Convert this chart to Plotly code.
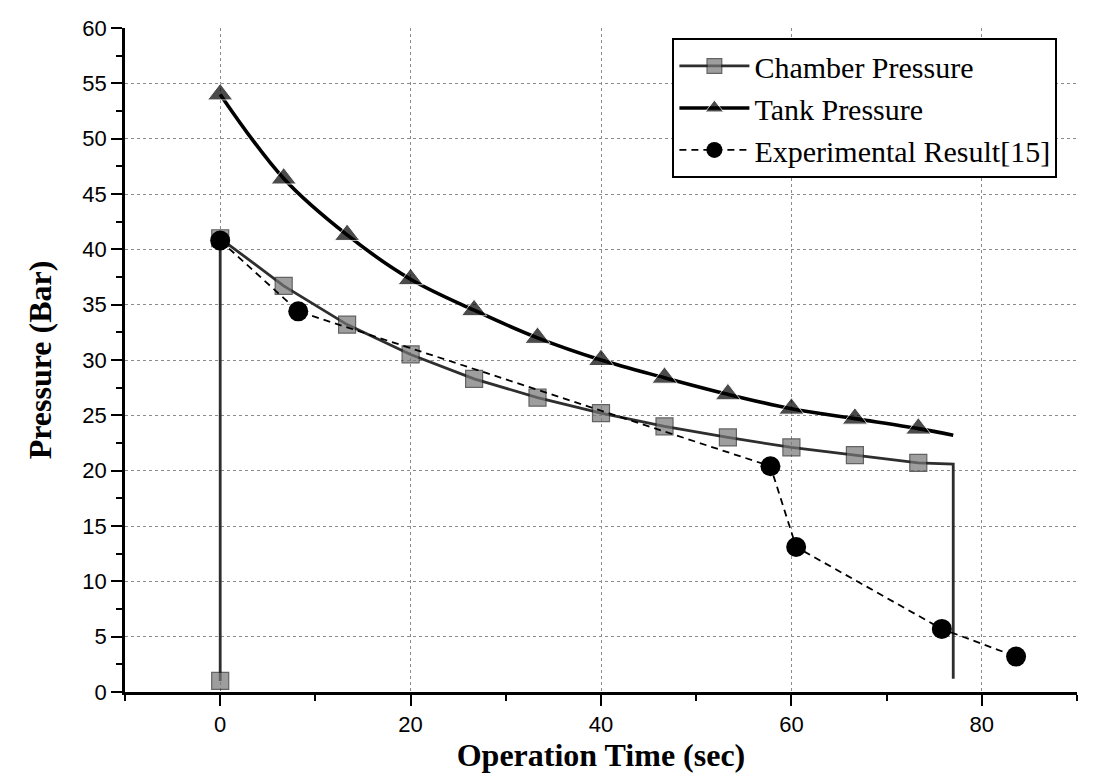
import plotly.graph_objects as go

# ---- data ----
chamber_time = [0, 0, 6.67, 13.33, 20, 26.67, 33.33, 40, 46.67, 53.33, 60, 66.67, 73.33, 77, 77]
chamber_p = [1.0, 41.0, 36.7, 33.2, 30.5, 28.3, 26.6, 25.2, 24.0, 23.0, 22.1, 21.4, 20.7, 20.6, 1.2]

tank_time = [0, 6.67, 13.33, 20, 26.67, 33.33, 40, 46.67, 53.33, 60, 66.67, 73.33, 77]
tank_p = [54.0, 46.4, 41.3, 37.3, 34.5, 32.0, 30.0, 28.4, 26.9, 25.6, 24.7, 23.8, 23.2]

exp_time = [0, 8.2, 57.8, 60.5, 75.8, 83.6]
exp_p = [40.8, 34.4, 20.4, 13.1, 5.7, 3.2]

x_ticks = [0, 20, 40, 60, 80]
y_ticks = [0, 5, 10, 15, 20, 25, 30, 35, 40, 45, 50, 55, 60]

series_names = ["Chamber Pressure", "Tank Pressure", "Experimental Result[15]"]

# ---- figure ----
fig = go.Figure()

chamber_sizes = [17] * (len(chamber_time) - 2) + [0, 0]
fig.add_trace(go.Scatter(
    x=chamber_time, y=chamber_p, mode="lines+markers", name=series_names[0],
    line=dict(color="#2e2e2e", width=2.8),
    marker=dict(symbol="square", size=chamber_sizes, color="#767676",
                line=dict(color="#222222", width=1.2)),
))

tank_sizes = [22] * (len(tank_time) - 1) + [0]
fig.add_trace(go.Scatter(
    x=tank_time, y=tank_p, mode="lines+markers", name=series_names[1],
    line=dict(color="black", width=3.6, shape="spline"),
    marker=dict(symbol="triangle-up", size=tank_sizes, color="black"),
))

fig.add_trace(go.Scatter(
    x=exp_time, y=exp_p, mode="lines+markers", name=series_names[2],
    line=dict(color="black", width=1.8, dash="7px,5px"),
    marker=dict(symbol="circle", size=20, color="black"),
))

axis_font = dict(family="Liberation Sans, Arial, sans-serif", size=22, color="black")
title_font = dict(family="Liberation Serif, Times New Roman, serif", size=32, color="black")

fig.update_xaxes(
    range=[-10, 90], tickvals=x_ticks, ticks="outside", ticklen=11, tickwidth=2,
    tickcolor="black", showline=True, linecolor="black", linewidth=2.5,
    showgrid=True, gridcolor="#8c8c8c", griddash="dot", gridwidth=1,
    zeroline=False, tickfont=axis_font, automargin=False,
    minor=dict(dtick=10, tick0=0, ticks="outside", ticklen=6, tickcolor="black", tickwidth=1.8, showgrid=False),
    title=dict(text="<b>Operation Time (sec)</b>", font=title_font, standoff=2),
)
fig.update_yaxes(
    range=[0, 60], tickvals=y_ticks, ticks="outside", ticklen=11, tickwidth=2,
    tickcolor="black", showline=True, linecolor="black", linewidth=2.5,
    showgrid=True, gridcolor="#8c8c8c", griddash="dot", gridwidth=1,
    zeroline=False, tickfont=axis_font, automargin=False,
    minor=dict(dtick=2.5, tick0=0, ticks="outside", ticklen=6, tickcolor="black", tickwidth=1.8, showgrid=False),
    title=dict(text="<b>Pressure (Bar)</b>", font=title_font, standoff=22),
)

# the page body adds an 8px offset; margins compensate so the plot area
# lands where it sits in the reference
fig.update_layout(
    width=1101, height=773,
    margin=dict(l=117, r=32, t=20, b=89),
    paper_bgcolor="white", plot_bgcolor="white",
    showlegend=True,
    legend=dict(
        x=0.575, y=0.985, xanchor="left", yanchor="top",
        bgcolor="white", bordercolor="black", borderwidth=2,
        font=dict(family="Liberation Serif, Times New Roman, serif", size=30, color="black"),
        itemwidth=70, tracegroupgap=0,
    ),
)

fig.write_html("out.html")
